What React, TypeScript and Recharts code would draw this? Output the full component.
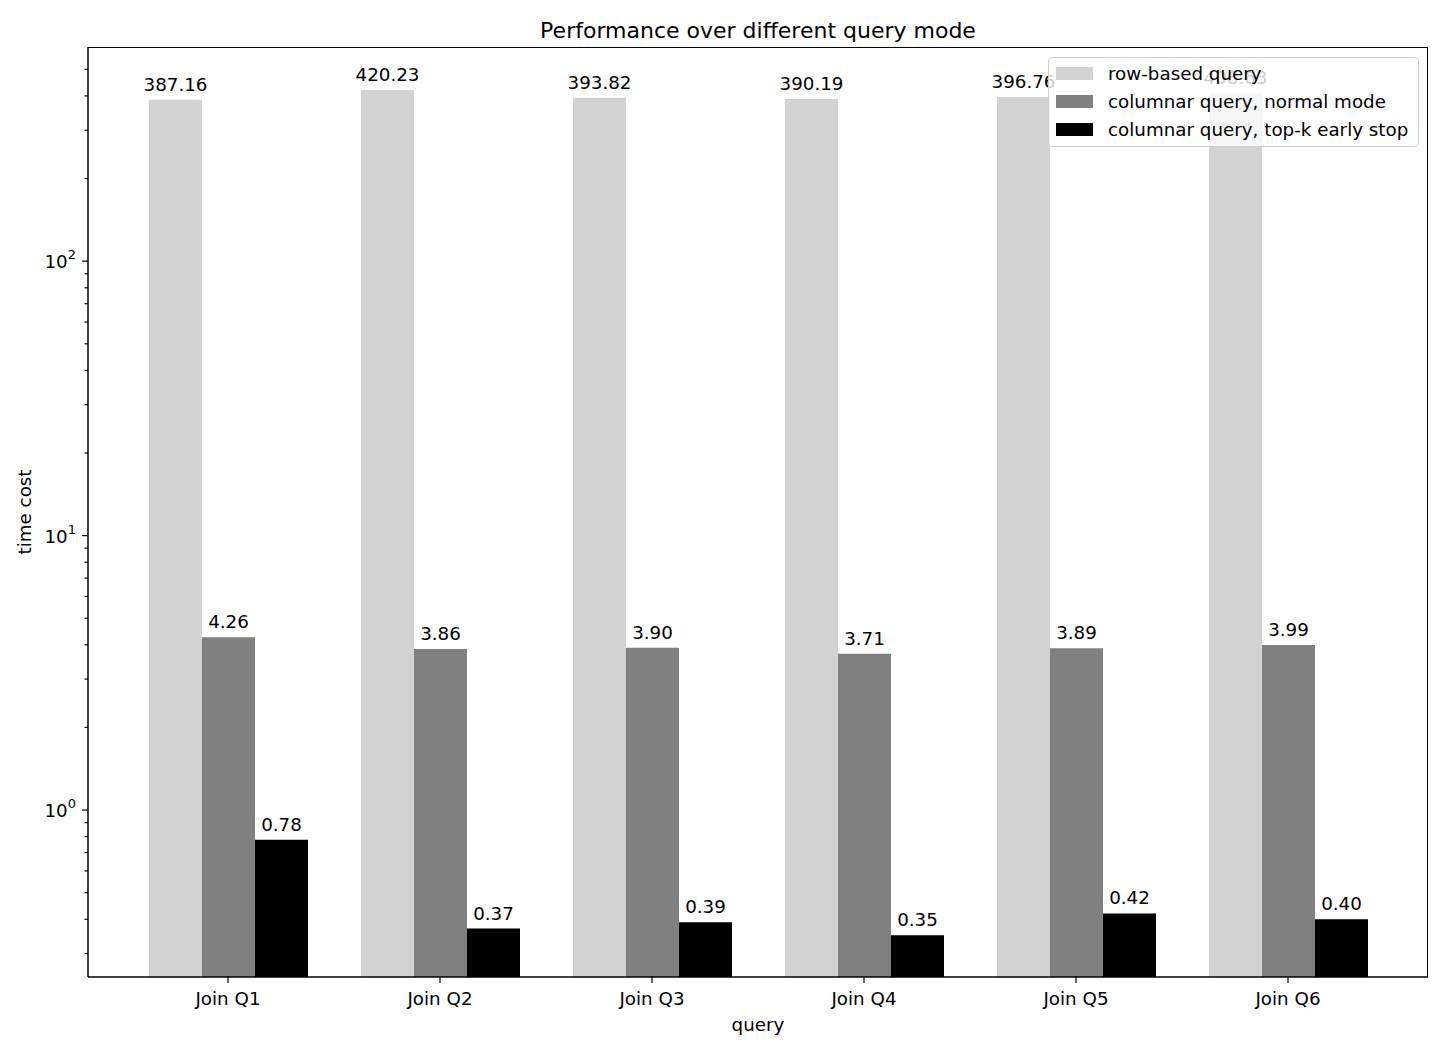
import React from 'react';
import { BarChart, Bar, XAxis, YAxis, LabelList, Label } from 'recharts';

const queries = ['Join Q1', 'Join Q2', 'Join Q3', 'Join Q4', 'Join Q5', 'Join Q6'];
const rowBased = [387.16, 420.23, 393.82, 390.19, 396.76, 408.63];
const columnarNormal = [4.26, 3.86, 3.9, 3.71, 3.89, 3.99];
const columnarTopK = [0.78, 0.37, 0.39, 0.35, 0.42, 0.4];

const majorTicks = [1, 10, 100];
const minorTicks = [0.3, 0.4, 0.5, 0.6, 0.7, 0.8, 0.9, 2, 3, 4, 5, 6, 7, 8, 9, 20, 30, 40, 50, 60, 70, 80, 90, 200, 300, 400, 500];
const exponents: Record<number, string> = { 1: '0', 10: '1', 100: '2' };

const series = [
  { key: 'row', name: 'row-based query', color: '#d3d3d3' },
  { key: 'normal', name: 'columnar query, normal mode', color: '#808080' },
  { key: 'topk', name: 'columnar query, top-k early stop', color: '#000000' },
];

const data = queries.map((q, i) => ({
  query: q,
  row: rowBased[i],
  normal: columnarNormal[i],
  topk: columnarTopK[i],
}));

const FONT = '"DejaVu Sans", sans-serif';

const YTick = (props: any) => {
  const { x, y, payload } = props;
  const v = payload.value;
  const isMajor = majorTicks.includes(v);
  return (
    <g>
      <line x1={x - (isMajor ? 6 : 3.5)} x2={x} y1={y} y2={y} stroke="#000" strokeWidth={1.2} />
      {isMajor && (
        <text x={x - 12} y={y + 7} textAnchor="end" fontSize={18.3} fontFamily={FONT} fill="#000">
          <tspan>10</tspan>
          <tspan dy={-9} fontSize={13}>{exponents[v]}</tspan>
        </text>
      )}
    </g>
  );
};

export default function App() {
  return (
    <div style={{ position: 'absolute', left: 0, top: 0, width: 1440, height: 1045, background: '#fff', fontFamily: FONT }}>
      <div style={{ position: 'absolute', left: 88, width: 1340, top: 18, textAlign: 'center', fontSize: 22, color: '#000' }}>
        Performance over different query mode
      </div>
      <BarChart
        width={1440}
        height={1045}
        data={data}
        margin={{ top: 47, right: 12, left: 28, bottom: 18 }}
        barGap={0}
        barSize={53}
      >
        <XAxis
          dataKey="query"
          height={50}
          padding={{ left: 34, right: 34 }}
          tickSize={6}
          tickMargin={9}
          axisLine={{ stroke: '#000', strokeWidth: 1.5 }}
          tickLine={{ stroke: '#000', strokeWidth: 1.2 }}
          tick={{ fill: '#000', fontSize: 18.3, fontFamily: FONT }}
          interval={0}
        >
          <Label value="query" position="insideBottom" offset={-4} fill="#000" fontSize={18.3} fontFamily={FONT} />
        </XAxis>
        <YAxis
          scale="log"
          domain={[0.2464, 603]}
          allowDataOverflow
          ticks={[...minorTicks, ...majorTicks].sort((a, b) => a - b)}
          interval={0}
          width={60}
          tickSize={0}
          tickMargin={0}
          tick={<YTick />}
          axisLine={{ stroke: '#000', strokeWidth: 1.5 }}
        >
          <Label value="time cost" angle={-90} position="insideLeft" offset={-3} fill="#000" fontSize={18.3} fontFamily={FONT} style={{ textAnchor: 'middle' }} />
        </YAxis>
        {series.map((s) => (
          <Bar key={s.key} dataKey={s.key} name={s.name} fill={s.color} isAnimationActive={false}>
            <LabelList
              dataKey={s.key}
              position="top"
              offset={9}
              formatter={(v: any) => Number(v).toFixed(2)}
              fill="#000"
              fontSize={18.3}
              fontFamily={FONT}
            />
          </Bar>
        ))}
      </BarChart>
      {/* plot frame */}
      <div style={{ position: 'absolute', left: 88, top: 47, width: 1340, height: 930, boxSizing: 'border-box', borderTop: '1.5px solid #000', borderRight: '1.5px solid #000', pointerEvents: 'none' }} />
      {/* legend */}
      <div
        style={{
          position: 'absolute',
          left: 1048,
          top: 57,
          width: 371,
          height: 90,
          boxSizing: 'border-box',
          background: 'rgba(255,255,255,0.8)',
          border: '1px solid #d0d0d0',
          borderRadius: 4,
          padding: '1px 0 0 7px',
        }}
      >
        {series.map((s) => (
          <div key={s.key} style={{ display: 'flex', alignItems: 'center', height: 28, fontSize: 18.3, color: '#000' }}>
            <span style={{ display: 'inline-block', width: 37, height: 13, background: s.color, marginRight: 15 }} />
            <span>{s.name}</span>
          </div>
        ))}
      </div>
    </div>
  );
}
